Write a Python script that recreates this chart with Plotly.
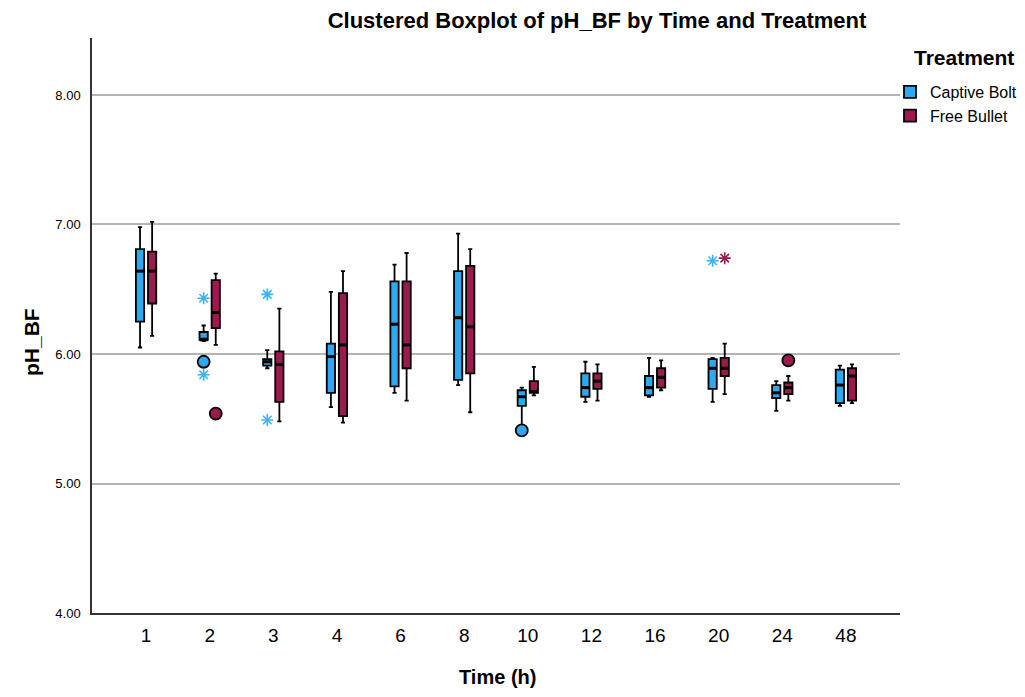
import plotly.graph_objects as go

# ---------------- data ----------------
times = ["1", "2", "3", "4", "6", "8", "10", "12", "16", "20", "24", "48"]
treatments = ["Captive Bolt", "Free Bullet"]

cb_low = [6.05, 6.10, 5.89, 5.59, 5.70, 5.76, 5.45, 5.63, 5.67, 5.63, 5.56, 5.60]
cb_q1 = [6.25, 6.11, 5.91, 5.70, 5.75, 5.80, 5.60, 5.67, 5.68, 5.73, 5.66, 5.62]
cb_med = [6.64, 6.11, 5.94, 5.98, 6.23, 6.28, 5.67, 5.74, 5.74, 5.89, 5.70, 5.76]
cb_q3 = [6.81, 6.17, 5.96, 6.08, 6.56, 6.64, 5.72, 5.85, 5.83, 5.96, 5.76, 5.88]
cb_high = [6.98, 6.22, 6.03, 6.48, 6.69, 6.93, 5.74, 5.94, 5.97, 5.97, 5.79, 5.91]

fb_low = [6.14, 6.07, 5.48, 5.47, 5.64, 5.55, 5.68, 5.64, 5.72, 5.69, 5.64, 5.62]
fb_q1 = [6.39, 6.20, 5.63, 5.52, 5.89, 5.85, 5.70, 5.73, 5.74, 5.83, 5.69, 5.64]
fb_med = [6.64, 6.32, 5.92, 6.07, 6.07, 6.21, 5.71, 5.79, 5.82, 5.89, 5.74, 5.83]
fb_q3 = [6.79, 6.57, 6.02, 6.47, 6.56, 6.68, 5.79, 5.85, 5.89, 5.97, 5.78, 5.89]
fb_high = [7.02, 6.62, 6.35, 6.64, 6.78, 6.81, 5.90, 5.92, 5.95, 6.08, 5.83, 5.92]

# outliers: (time index, value)
cb_circle_t = [1, 6]
cb_circle_v = [5.94, 5.41]
cb_star_t = [1, 1, 2, 2, 9]
cb_star_v = [6.43, 5.84, 6.46, 5.49, 6.72]
fb_circle_t = [1, 10]
fb_circle_v = [5.54, 5.95]
fb_star_t = [9]
fb_star_v = [6.74]

y_ticks = [4, 5, 6, 7, 8]

# ---------------- styles ----------------
BLUE = "#2EA9EF"
RED = "#9C1A4E"
STAR_BLUE = "#3DB2F5"
OFF = 0.095
BOXW = 0.13
FONT = "Liberation Sans, Arial, sans-serif"

# page body has an 8px default margin: work in screen pixels, then shift
PAGE = 8
W, H = 1025 - 2 * PAGE, 697 - 2 * PAGE
PLOT_L, PLOT_R, PLOT_T, PLOT_B = 92, 900, 38, 613  # screen pixels
L = PLOT_L - PAGE
T = PLOT_T - PAGE
R = W - (PLOT_R - PAGE)
B = H - (PLOT_B - PAGE)
PW, PH = PLOT_R - PLOT_L, PLOT_B - PLOT_T


def px_x(px):
    return (px - PLOT_L) / PW


def px_y(py):
    return (PLOT_B - py) / PH


fig = go.Figure()

series = [
    (treatments[0], BLUE, STAR_BLUE, -OFF, cb_low, cb_q1, cb_med, cb_q3, cb_high,
     cb_circle_t, cb_circle_v, cb_star_t, cb_star_v),
    (treatments[1], RED, RED, OFF, fb_low, fb_q1, fb_med, fb_q3, fb_high,
     fb_circle_t, fb_circle_v, fb_star_t, fb_star_v),
]

for (name, col, scol, off, lo, q1, med, q3, hi, ct, cv, st, sv) in series:
    xs = [i + off for i in range(len(times))]
    fig.add_trace(go.Box(
        name=name, x=xs, q1=q1, median=med, q3=q3,
        lowerfence=lo, upperfence=hi,
        width=BOXW, whiskerwidth=0.5,
        fillcolor=col, line=dict(color="black", width=1.8),
        boxpoints=False, hoverinfo="skip", showlegend=True,
    ))
    # thicker median bars
    mx, my = [], []
    for x, m in zip(xs, med):
        mx += [x - BOXW / 2, x + BOXW / 2, None]
        my += [m, m, None]
    fig.add_trace(go.Scatter(
        x=mx, y=my, mode="lines", showlegend=False, hoverinfo="skip",
        line=dict(color="black", width=3),
    ))
    fig.add_trace(go.Scatter(
        x=[t + off for t in ct], y=cv, mode="markers", showlegend=False,
        marker=dict(symbol="circle", size=12, color=col,
                    line=dict(color="black", width=1.8)),
        hoverinfo="skip",
    ))
    fig.add_trace(go.Scatter(
        x=[t + off for t in st], y=sv, mode="markers", showlegend=False,
        marker=dict(symbol="asterisk-open", size=10, color=scol,
                    line=dict(color=scol, width=1.6)),
        hoverinfo="skip",
    ))

fig.update_layout(
    width=W, height=H,
    margin=dict(l=L, r=R, t=T, b=B, pad=0, autoexpand=False),
    paper_bgcolor="white", plot_bgcolor="white",
    font=dict(family=FONT, color="black"),
    boxmode="overlay",
    title=dict(text="Clustered Boxplot of pH_BF by Time and Treatment",
               x=px_x(597), xref="paper", xanchor="center",
               y=1 - (20 - PAGE) / H, yref="container", yanchor="middle",
               font=dict(family=FONT, size=22, weight="bold", color="black")),
    legend=dict(
        font=dict(family=FONT, size=16, color="black"),
        x=px_x(890), xanchor="left", y=px_y(75), yanchor="top",
        bgcolor="rgba(0,0,0,0)", itemwidth=30,
    ),
    xaxis=dict(
        range=[-0.85, len(times) - 1 + 0.85],
        tickvals=list(range(len(times))), ticktext=times,
        showgrid=False, zeroline=False,
        showline=True, linecolor="#333333", linewidth=1.5,
        ticks="", ticklabelstandoff=4, automargin=False,
        tickfont=dict(family=FONT, size=19, color="black"),
    ),
    yaxis=dict(
        range=[4.0, 8.44],
        tickvals=y_ticks, tickformat=".2f",
        showgrid=True, gridcolor="#B4B4B4", gridwidth=1.5,
        zeroline=False,
        showline=True, linecolor="#333333", linewidth=1.5,
        ticks="", ticklabelstandoff=7, automargin=False,
        tickfont=dict(family=FONT, size=13, color="black"),
    ),
    annotations=[
        dict(text="pH_BF", x=px_x(31), xref="paper", y=px_y(342), yref="paper",
             xanchor="center", yanchor="middle",
             textangle=-90, showarrow=False,
             font=dict(family=FONT, size=21, weight="bold")),
        dict(text="Time (h)", x=px_x(497), xref="paper", y=px_y(677), yref="paper",
             xanchor="center", yanchor="middle",
             showarrow=False, font=dict(family=FONT, size=20, weight="bold")),
        dict(text="Treatment", x=px_x(912), xref="paper", y=px_y(57), yref="paper",
             xanchor="left", yanchor="middle",
             showarrow=False, font=dict(family=FONT, size=21, weight="bold")),
    ],
)

fig.write_html("out.html")
